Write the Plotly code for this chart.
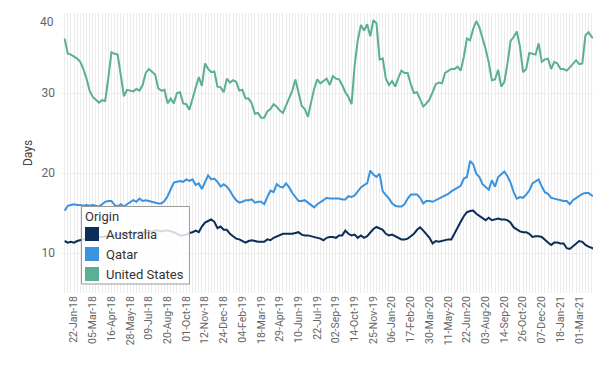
import pandas as pd
import plotly.graph_objects as go

# Weekly dates
weeks = pd.date_range("2018-01-01", periods=171, freq="7D")

australia = [11.5, 11.3, 11.4, 11.3, 11.5, 11.6, 11.7, 11.8, 11.8, 11.9,
             11.9, 12.0, 12.0, 12.1, 12.1, 12.2, 12.2, 12.3, 12.3, 12.4,
             12.4, 12.5, 12.4, 12.5, 12.6, 12.6, 12.5, 12.6, 12.7, 12.8,
             12.8, 12.7, 12.8, 12.8, 12.7, 12.6, 12.4, 12.2, 12.2, 12.3,
             12.5, 12.6, 12.8, 12.6, 13.3, 13.8, 14.0, 14.2, 13.9, 13.1,
             13.3, 12.9, 12.9, 12.4, 12.1, 11.8, 11.7, 11.5, 11.3, 11.5,
             11.6, 11.5, 11.4, 11.4, 11.4, 11.7, 11.6, 11.9, 12.1, 12.2,
             12.4, 12.4, 12.4, 12.4, 12.5, 12.6, 12.3, 12.2, 12.2, 12.1,
             12.0, 11.9, 11.8, 11.6, 11.9, 12.0, 12.0, 11.9, 12.2, 12.2,
             12.8, 12.4, 12.2, 12.3, 11.9, 12.2, 11.9, 12.1, 12.6, 13.0,
             13.25, 13.1, 12.9, 12.4, 12.2, 12.3, 12.1, 11.9, 11.7, 11.7,
             11.8, 12.1, 12.4, 12.9, 13.2, 12.8, 12.3, 11.9, 11.2, 11.5,
             11.4, 11.5, 11.6, 11.7, 11.7, 12.5, 13.3, 13.9, 14.6, 15.1,
             15.25, 15.3, 14.9, 14.6, 14.4, 14.1, 14.4, 14.1, 14.2, 14.3,
             14.2, 14.2, 14.1, 13.8, 13.2, 12.9, 12.7, 12.6, 12.6, 12.4,
             12.0, 12.1, 12.1, 12.0, 11.6, 11.3, 11.0, 11.3, 11.3, 11.2,
             11.2, 10.6, 10.5, 10.8, 11.2, 11.5, 11.4, 11.0, 10.8, 10.6,
             10.5]

qatar = [15.3, 15.9, 16.0, 16.1, 16.0, 16.0, 15.9, 16.0, 15.9, 16.0,
         15.9, 15.8, 16.1, 16.4, 16.5, 16.5, 16.0, 15.8, 16.1, 15.8,
         16.1, 16.4, 16.6, 16.4, 16.8, 16.5, 16.6, 16.5, 16.4, 16.3,
         16.2, 16.2, 16.5, 17.1, 18.0, 18.8, 18.9, 19.0, 18.9, 19.2,
         19.0, 19.2, 18.5, 18.7, 18.0, 18.8, 19.7, 19.2, 19.3, 18.9,
         18.3, 18.6, 18.3, 17.8, 17.1, 16.6, 16.3, 16.4, 16.6, 16.6,
         16.7, 16.3, 16.4, 16.4, 16.1, 17.0, 17.8, 17.6, 18.6, 18.3,
         18.2, 18.7, 18.2, 17.5, 17.0, 16.5, 16.5, 16.6, 16.3, 16.0,
         15.7, 16.1, 16.3, 16.6, 16.9, 16.8, 16.8, 16.8, 16.8, 16.7,
         16.7, 17.1, 17.0, 17.2, 17.7, 18.2, 18.5, 18.7, 20.3, 19.8,
         19.5, 19.9, 17.7, 17.3, 16.8, 16.2, 15.9, 15.8, 15.8, 16.1,
         16.8, 17.3, 17.3, 17.3, 16.9, 16.2, 16.5, 16.5, 16.4, 16.6,
         16.7, 17.0, 17.2, 17.4, 17.7, 17.9, 18.1, 18.4, 19.3, 19.5,
         21.5, 21.1, 19.9, 19.5, 18.6, 18.3, 17.9, 19.1, 18.3, 19.5,
         19.9, 20.2, 19.6, 18.8, 17.6, 16.8, 17.0, 16.9, 17.3, 17.8,
         18.7, 18.9, 19.2, 18.3, 17.6, 17.4, 16.9, 16.8, 16.7, 16.6,
         16.5, 16.5, 16.1, 16.6, 16.9, 17.2, 17.4, 17.5, 17.5, 17.2,
         17.1]

united_states = [36.8, 34.9, 34.8, 34.6, 34.3, 33.9, 33.0, 31.8, 30.3, 29.5,
                 29.1, 28.8, 29.1, 29.0, 31.9, 35.1, 34.9, 34.8, 32.2, 29.6,
                 30.4, 30.3, 30.2, 30.5, 30.3, 31.0, 32.5, 33.0, 32.7, 32.3,
                 30.6, 30.3, 30.4, 28.7, 29.3, 28.7, 30.0, 30.1, 28.7, 28.6,
                 27.9, 29.2, 30.4, 32.0, 30.9, 33.7, 33.0, 32.6, 32.7, 30.8,
                 30.7, 30.1, 31.8, 31.3, 31.6, 31.4, 30.3, 30.4, 29.3, 29.3,
                 28.7, 27.4, 27.5, 26.9, 26.9, 27.7, 28.0, 28.6, 28.3, 27.8,
                 27.5, 28.5, 29.5, 30.3, 31.7, 30.1, 28.4, 28.0, 27.0, 28.8,
                 30.5, 31.7, 31.2, 31.5, 31.8, 31.0, 32.1, 31.8, 31.7, 31.0,
                 30.1, 29.5, 28.6, 33.5, 36.6, 38.5, 37.8, 38.6, 37.1, 39.1,
                 38.7, 34.2, 34.3, 31.8, 31.0, 31.5, 30.8, 31.9, 32.8, 32.5,
                 32.5, 31.1, 30.0, 30.1, 29.1, 28.3, 28.7, 29.2, 30.1, 31.1,
                 31.3, 31.2, 32.5, 32.8, 33.0, 33.0, 33.3, 32.8, 34.5, 36.8,
                 36.6, 38.0, 39.0, 38.2, 36.9, 35.5, 33.8, 31.6, 31.7, 32.9,
                 30.8, 31.4, 33.7, 36.5, 37.0, 37.7, 35.8, 32.6, 33.0, 35.0,
                 34.9, 34.8, 36.2, 33.9, 34.2, 34.3, 33.0, 33.9, 33.7, 33.0,
                 33.0, 32.8, 33.2, 33.7, 34.1, 33.6, 33.7, 37.2, 37.6, 37.0,
                 36.8]

series_names = ["Australia", "Qatar", "United States"]
series_values = [australia, qatar, united_states]
colors = ["#0c2d57", "#3b93de", "#5aaf96"]
y_ticks = [10, 20, 30, 40]

# plot-area geometry (pixels within the figure div)
W, H = 596, 370
ML, MR, MT, MB = 54, 11, 5, 85
PW, PH = W - ML - MR, H - MT - MB


def px(x):  # page-pixel x -> paper
    return (x - 8 - ML) / PW


def py(y):  # page-pixel y -> paper
    return (H - MB - (y - 8)) / PH


fig = go.Figure()
for name, vals, col in zip(series_names, series_values, colors):
    fig.add_trace(go.Scatter(x=weeks, y=vals, mode="lines", name=name,
                             line=dict(color=col, width=2), showlegend=False,
                             hoverinfo="x+y+name"))

# Legend box (drawn to match the reference's compact legend)
shapes = [dict(type="rect", xref="paper", yref="paper", layer="above",
               x0=px(81.5), x1=px(189.5), y0=py(284), y1=py(206.5),
               fillcolor="rgba(255,255,255,0.82)",
               line=dict(color="#9a9a9a", width=1))]
annotations = [dict(text="Origin", xref="paper", yref="paper",
                    x=px(82.5), y=py(216), xanchor="left", yanchor="middle",
                    showarrow=False, font=dict(size=13, color="#333"))]
for k, (name, col) in enumerate(zip(series_names, colors)):
    cy = 234 + 20 * k
    shapes.append(dict(type="rect", xref="paper", yref="paper", layer="above",
                       x0=px(85), x1=px(99), y0=py(cy + 7), y1=py(cy - 7),
                       fillcolor=col, line=dict(width=0)))
    annotations.append(dict(text=name, xref="paper", yref="paper",
                            x=px(104), y=py(cy), xanchor="left",
                            yanchor="middle", showarrow=False,
                            font=dict(size=13, color="#333")))
# top tick label sits just inside the plot top in the reference
annotations.append(dict(text=str(y_ticks[-1]), xref="paper", yref="y",
                        x=0, y=y_ticks[-1], xanchor="right", yanchor="top",
                        xshift=-6, showarrow=False,
                        font=dict(size=12, color="#666")))

fig.update_layout(
    width=W, height=H,
    margin=dict(l=ML, r=MR, t=MT, b=MB),
    plot_bgcolor="white", paper_bgcolor="white",
    font=dict(family="Roboto", color="#555", size=12),
    showlegend=False,
    shapes=shapes, annotations=annotations,
)
fig.update_xaxes(
    type="date",
    range=["2017-12-26", "2021-04-01"],
    tick0="2018-01-22", dtick=42 * 86400000,
    tickformat="%d-%b-%y", tickangle=-90,
    tickfont=dict(size=10.5, color="#666"),
    showgrid=True, gridcolor="#ececec", gridwidth=1,
    minor=dict(dtick=7 * 86400000, tick0="2018-01-01", showgrid=True,
               gridcolor="#ececec", gridwidth=1),
    showline=False, zeroline=False, ticks="", ticklen=0,
)
fig.update_yaxes(
    range=[5, 40], tickvals=y_ticks,
    ticktext=[str(v) for v in y_ticks[:-1]] + [""],
    tickfont=dict(size=12, color="#666"),
    title=dict(text="Days", font=dict(size=12, color="#444"), standoff=6),
    showgrid=True, gridcolor="#eeeeee", zeroline=False, showline=False,
    ticks="", ticklen=0, ticklabelstandoff=6,
)

fig.write_html("out.html")
